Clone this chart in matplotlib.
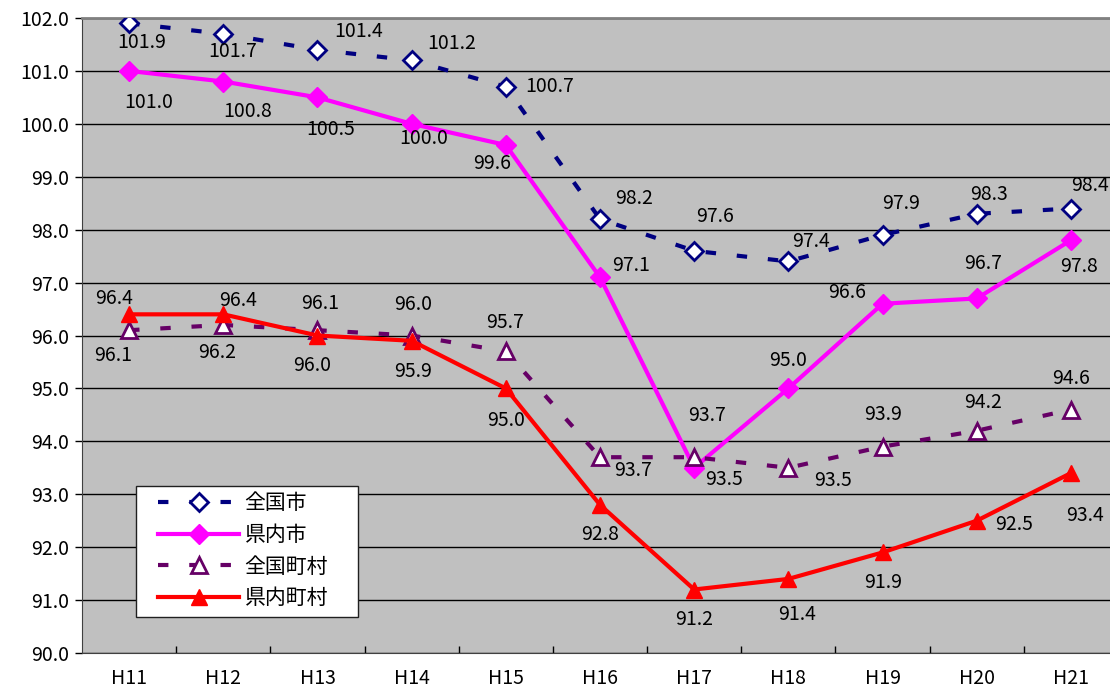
import matplotlib
matplotlib.use("Agg")
import matplotlib.pyplot as plt
from matplotlib.patches import Rectangle

plt.rcParams["font.family"] = ["Noto Sans CJK JP", "DejaVu Sans"]

# ---------------------------------------------------------------- data

years = ["H11", "H12", "H13", "H14", "H15", "H16", "H17", "H18", "H19", "H20", "H21"]
zenkoku_shi    = [101.9, 101.7, 101.4, 101.2, 100.7, 98.2, 97.6, 97.4, 97.9, 98.3, 98.4]
kennai_shi     = [101.0, 100.8, 100.5, 100.0, 99.6, 97.1, 93.5, 95.0, 96.6, 96.7, 97.8]
zenkoku_choson = [96.1, 96.2, 96.1, 96.0, 95.7, 93.7, 93.7, 93.5, 93.9, 94.2, 94.6]
kennai_choson  = [96.4, 96.4, 96.0, 95.9, 95.0, 92.8, 91.2, 91.4, 91.9, 92.5, 93.4]

# label offsets in pixels (dx right, dy down)
off_zs = [(13, 19), (9, 18), (41, -18), (40, -17), (44, 0), (34, -21),
          (21, -34), (23, -20), (19, -31), (12, -19), (19, -23)]
off_ks = [(20, 32), (24, 30), (13, 32), (12, 15), (-14, 18), (31, -12),
          (30, 12), (0, -28), (-35, -11), (6, -35), (8, 26)]
off_zc = [(-16, 25), (-6, 28), (3, -27), (1, -31), (-1, -29), (33, 13),
          (13, -42), (45, 13), (1, -32), (6, -28), (0, -31)]
off_kc = [(-15, -16), (15, -14), (-5, 30), (1, 31), (0, 32), (0, 30),
          (0, 30), (9, 36), (1, 30), (37, 4), (14, 42)]

# ---------------------------------------------------------------- figure

W, H = 1110, 693
fig = plt.figure(figsize=(W / 100, H / 100), dpi=100)
ax = fig.add_axes([82 / W, (H - 653) / H, 1036 / W, 635 / H])
ax.set_facecolor("#C0C0C0")

x = list(range(len(years)))

series = [
    (zenkoku_shi, "全国市", dict(color="#000080", lw=3, dashes=(2.5, 5), marker="D", ms=9,
                              mfc="white", mec="#000080", mew=2), off_zs),
    (kennai_shi, "県内市", dict(color="#FF00FF", lw=3, marker="D", ms=10,
                             mfc="#FF00FF", mec="#FF00FF"), off_ks),
    (zenkoku_choson, "全国町村", dict(color="#660066", lw=3, dashes=(2.5, 5), marker="^", ms=12,
                                  mfc="white", mec="#660066", mew=2), off_zc),
    (kennai_choson, "県内町村", dict(color="#FF0000", lw=3, marker="^", ms=11,
                                 mfc="#FF0000", mec="#FF0000"), off_kc),
]

handles = []
for vals, name, style, offs in series:
    ln, = ax.plot(x, vals, label=name, zorder=3, **style)
    handles.append(ln)
    for xi, v, (dx, dy) in zip(x, vals, offs):
        ax.annotate(f"{v:.1f}", xy=(xi, v), xytext=(dx, -dy), textcoords="offset pixels",
                    ha="center", va="center", fontsize=14, color="black", zorder=4)

ax.set_xlim(-0.5, 10.5)
ax.set_ylim(90, 102)
ax.set_yticks([90 + i for i in range(13)])
ax.set_yticklabels([f"{90 + i:.1f}" for i in range(13)], fontsize=14)
ax.set_xticks(x)
ax.set_xticklabels(years, fontsize=14)
ax.set_xticks([i + 0.5 for i in range(10)], minor=True)
ax.tick_params(axis="x", which="major", length=0, pad=11)
ax.tick_params(axis="x", which="minor", length=5, direction="in", width=1)
ax.tick_params(axis="y", length=5, direction="out", width=1, pad=4)
ax.grid(axis="y", color="black", lw=1, zorder=1)
ax.set_axisbelow(True)

ax.spines["top"].set_color("#808080")
ax.spines["top"].set_linewidth(2)
ax.spines["right"].set_visible(False)
ax.spines["left"].set_color("#404040")
ax.spines["bottom"].set_color("#404040")

# legend box (white, black edge) with the legend entries placed inside
box = Rectangle((136 / W, 1 - 617 / H), 222 / W, 131 / H, transform=fig.transFigure,
                facecolor="white", edgecolor="#202020", lw=1, zorder=5)
ax.add_artist(box)
box.set_clip_on(False)

leg = ax.legend(handles=handles, loc="upper left",
                bbox_to_anchor=(158 / W, 1 - 492 / H), bbox_transform=fig.transFigure,
                fontsize=15, frameon=False, handlelength=3.9, handletextpad=0.25,
                labelspacing=0.47, borderpad=0, borderaxespad=0)
leg.set_zorder(6)

fig.savefig("out.png", dpi=100)
